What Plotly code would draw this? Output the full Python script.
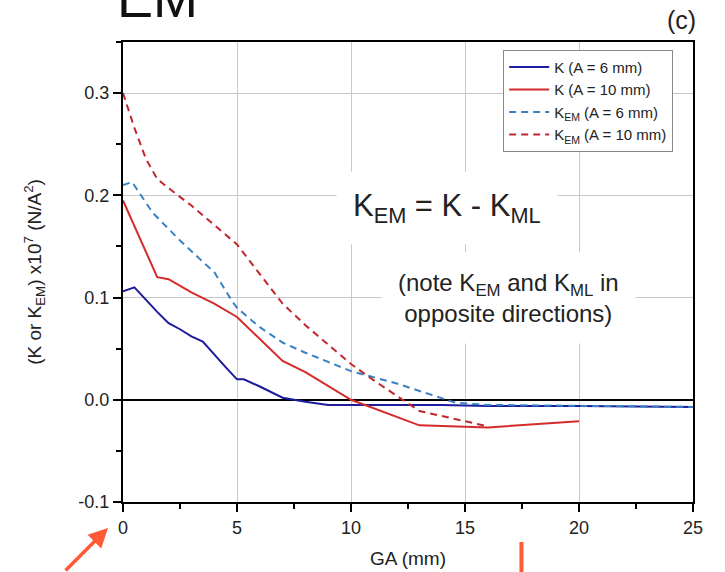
import plotly.graph_objects as go

# GA (mm) and stiffness values (x10^7 N/A^2)
ga_k6 = [0, 0.5, 1.5, 2, 2.5, 3, 3.5, 4, 4.5, 5, 5.3, 6, 7, 8, 9, 10, 12, 14, 16, 20, 25]
k_a6 = [0.106, 0.110, 0.086, 0.075, 0.069, 0.062, 0.057, 0.044, 0.032, 0.020, 0.020,
        0.013, 0.002, -0.002, -0.005, -0.005, -0.005, -0.005, -0.006, -0.006, -0.007]

ga_k10 = [0, 1.5, 2, 3, 4, 5, 7, 8, 10, 13, 16, 20]
k_a10 = [0.195, 0.120, 0.118, 0.105, 0.094, 0.081, 0.038, 0.027, 0.0, -0.025, -0.027, -0.021]

ga_kem6 = [0, 0.4, 1.3, 2.4, 3.5, 4, 4.8, 5, 6, 7, 8, 10, 12, 14.6, 16, 20, 25]
kem_a6 = [0.210, 0.213, 0.183, 0.158, 0.135, 0.125, 0.096, 0.090, 0.071, 0.056, 0.046,
          0.028, 0.016, -0.003, -0.005, -0.006, -0.007]

ga_kem10 = [0, 0.5, 1, 1.5, 2, 3, 4, 5, 6, 7, 8, 10, 11, 12.3, 13, 16]
kem_a10 = [0.300, 0.266, 0.236, 0.216, 0.207, 0.190, 0.171, 0.152, 0.123, 0.094, 0.073,
           0.035, 0.019, -0.001, -0.011, -0.026]

series = [
    (ga_k6, k_a6, "K (A = 6 mm)", "#1c1c9c", "solid"),
    (ga_k10, k_a10, "K (A = 10 mm)", "#d42b2b", "solid"),
    (ga_kem6, kem_a6, "K<sub>EM</sub> (A = 6 mm)", "#3b82c4", "7px,5px"),
    (ga_kem10, kem_a10, "K<sub>EM</sub> (A = 10 mm)", "#c0282e", "7px,5px"),
]

FONT = "Liberation Sans, Arial, sans-serif"
ORANGE = "#ff5a36"
TEXT = "#222"

fig = go.Figure()
for x, y, name, color, dash in series:
    fig.add_trace(go.Scatter(x=x, y=y, mode="lines", name=name,
                             line=dict(color=color, width=2, dash=dash)))

axis_common = dict(
    showline=True, linecolor="black", linewidth=2, mirror=True,
    ticks="outside", ticklen=8, tickwidth=1.5, tickcolor="black",
    showgrid=True, gridcolor="#c8c8c8", gridwidth=1,
    tickfont=dict(family=FONT, size=18, color=TEXT),
    automargin=False,
)

fig.update_xaxes(
    range=[0, 25], tick0=0, dtick=5,
    minor=dict(ticks="outside", ticklen=5, tickcolor="black", dtick=2.5, showgrid=False),
    title=dict(text="GA (mm)", font=dict(family=FONT, size=19, color=TEXT), standoff=15),
    zeroline=False, **axis_common,
)
fig.update_yaxes(
    range=[-0.1, 0.35], tickvals=[-0.1, 0.0, 0.1, 0.2, 0.3],
    ticktext=["-0.1", "0.0", "0.1", "0.2", "0.3"],
    minor=dict(ticks="outside", ticklen=5, tickcolor="black", dtick=0.05, tick0=0,
               showgrid=False),
    title=dict(text="(K or K<sub>EM</sub>) x10<sup>7</sup> (N/A<sup>2</sup>)",
               font=dict(family=FONT, size=19, color=TEXT), standoff=32),
    zeroline=True, zerolinecolor="black", zerolinewidth=1.5,
    **axis_common,
)

fig.update_layout(
    width=725, height=572,
    margin=dict(l=123, r=32, t=42, b=70),
    plot_bgcolor="white", paper_bgcolor="white",
    font=dict(family=FONT, color=TEXT),
    showlegend=True,
    legend=dict(x=0.667, y=0.983, xanchor="left", yanchor="top",
                bgcolor="white", bordercolor="#888", borderwidth=1,
                font=dict(family=FONT, size=15, color=TEXT),
                tracegroupgap=0, itemwidth=40),
)

annotations = [
    # heading, mostly above the page edge
    dict(text="EM", xref="paper", yref="paper", x=-0.014, y=1.026,
         xanchor="left", yanchor="bottom", showarrow=False,
         font=dict(family=FONT, size=54, color="#111")),
    dict(text="(c)", xref="paper", yref="paper", x=1.009, y=1.012,
         xanchor="right", yanchor="bottom", showarrow=False,
         font=dict(family=FONT, size=25, color=TEXT)),
    dict(text="K<sub>EM</sub> = K - K<sub>ML</sub>", xref="x", yref="y", x=14.2, y=0.188,
         showarrow=False, bgcolor="white", borderpad=16,
         font=dict(family=FONT, size=31, color=TEXT)),
    dict(text="(note K<sub>EM</sub> and K<sub>ML</sub> in<br>opposite directions)",
         xref="x", yref="y", x=16.9, y=0.10, showarrow=False,
         bgcolor="white", borderpad=16,
         font=dict(family=FONT, size=24, color=TEXT)),
    # orange pointer at the origin
    dict(text="", xref="paper", yref="paper", x=-0.0263, y=-0.0565,
         showarrow=True, ax=-44, ay=46, arrowhead=2, arrowsize=1.1,
         arrowwidth=3.5, arrowcolor=ORANGE),
]
fig.update_layout(annotations=annotations)

fig.add_shape(type="line", xref="paper", yref="paper",
              x0=0.699, x1=0.699, y0=-0.087, y1=-0.16,
              line=dict(color=ORANGE, width=4))

fig.write_html("out.html")
